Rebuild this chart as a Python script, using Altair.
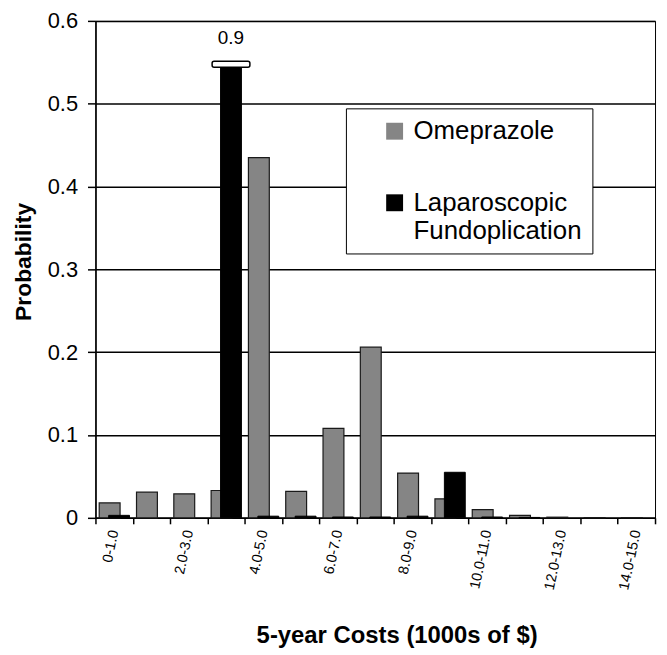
import altair as alt
import pandas as pd

categories = ["0-1.0", "1.0-2.0", "2.0-3.0", "3.0-4.0", "4.0-5.0", "5.0-6.0",
              "6.0-7.0", "7.0-8.0", "8.0-9.0", "9.0-10.0", "10.0-11.0",
              "11.0-12.0", "12.0-13.0", "13.0-14.0", "14.0-15.0"]
omeprazole = [0.018, 0.031, 0.029, 0.033, 0.435, 0.032, 0.108, 0.206,
              0.054, 0.023, 0.010, 0.003, 0.0008, 0.0003, 0.0002]
laparoscopic = [0.003, 0.0, 0.0, 0.9, 0.002, 0.002, 0.001, 0.001,
                0.002, 0.055, 0.001, 0.0005, 0.0, 0.0, 0.0]
series_names = ["Omeprazole", "Laparoscopic Fundoplication"]
shown_labels = categories[::2]
y_ticks = [0, 0.1, 0.2, 0.3, 0.4, 0.5, 0.6]
axis_max = 0.6
break_at = 0.55

rows = []
for c, o, l in zip(categories, omeprazole, laparoscopic):
    rows.append({"cost": c, "series": series_names[0], "p": o})
    rows.append({"cost": c, "series": series_names[1], "p": l})
df = pd.DataFrame(rows)

FONT = "Liberation Sans"
label_list = "[" + ",".join("'" + s + "'" for s in shown_labels) + "]"

base = alt.Chart(df).transform_calculate(shown=f"min(datum.p, {break_at})")

x = alt.X("cost:N", sort=categories,
          scale=alt.Scale(paddingInner=0, paddingOuter=0),
          axis=alt.Axis(title="5-year Costs (1000s of $)",
                        labelExpr=f"indexof({label_list}, datum.value) >= 0 ? datum.label : ''",
                        labelAngle=-78, labelFontSize=14.5, labelPadding=6,
                        tickBand="extent", tickSize=6, tickWidth=1.5,
                        domainWidth=1.5, titleFontSize=24, titleFontWeight="bold",
                        titleX=303, titleY=118, titleBaseline="middle",
                        titleAlign="center", labelOverlap=False))
y = alt.Y("shown:Q",
          scale=alt.Scale(domain=[0, axis_max], nice=False),
          axis=alt.Axis(title="Probability", values=y_ticks, format=".1~f",
                        grid=True, gridColor="black", gridWidth=1.5, gridOpacity=1,
                        labelFontSize=22, labelPadding=10, tickSize=8, tickWidth=1.5,
                        domainWidth=1.5, titleFontSize=23, titleFontWeight="bold",
                        titleX=-72, titleY=242, titleAngle=270, titleBaseline="middle",
                        titleAlign="center"))
color = alt.Color("series:N",
                  scale=alt.Scale(domain=series_names, range=["#858585", "#000000"]),
                  legend=alt.Legend(orient="none", legendX=252, legendY=88, title=None,
                                    fillColor="white", strokeColor="black",
                                    padding=10, symbolType="square", symbolSize=289,
                                    symbolOffset=26, symbolStrokeWidth=0,
                                    labelFontSize=26, labelOffset=6, rowPadding=46,
                                    labelExpr="split(datum.label, ' ')",
                                    labelLimit=400))

ome_bars = base.transform_filter(f"datum.series == '{series_names[0]}'").mark_bar(
    width=21, xOffset=-4.5, stroke="#1a1a1a", strokeWidth=1.2
).encode(x=x, y=y, color=color)

lap_bars = base.transform_filter(
    f"datum.series == '{series_names[1]}' && datum.p > 0").mark_bar(
    width=21, xOffset=5, stroke="black", strokeWidth=1
).encode(x=x, y=y, color=color)

brk = base.transform_filter(
    f"datum.series == '{series_names[1]}' && datum.p > {axis_max}").mark_tick(
    orient="horizontal", size=38, thickness=6, xOffset=5, yOffset=2,
    fill="white", stroke="black", strokeWidth=1.5, opacity=1, filled=True,
    cornerRadius=2
).encode(x=x, y=y)

lbl = base.transform_filter(
    f"datum.series == '{series_names[1]}' && datum.p > {axis_max}").mark_text(
    dy=-24, xOffset=5, fontSize=19, font=FONT, color="black", baseline="middle"
).encode(x=x, y=y, text=alt.Text("p:Q", format=".1f"))

chart = alt.layer(ome_bars, lap_bars, brk, lbl).properties(
    width=563, height=500,
    padding={"left": 88, "top": 11, "right": 4, "bottom": 130},
    autosize=alt.AutoSizeParams(type="none"),
).configure_view(stroke="black", strokeWidth=1).configure_axis(
    labelFont=FONT, titleFont=FONT, labelColor="black", titleColor="black",
    domainColor="black", tickColor="black"
).configure_axisX(grid=False).configure_legend(labelFont=FONT, labelColor="black")

chart.save("out.html", embed_options={"renderer": "svg", "actions": False})
